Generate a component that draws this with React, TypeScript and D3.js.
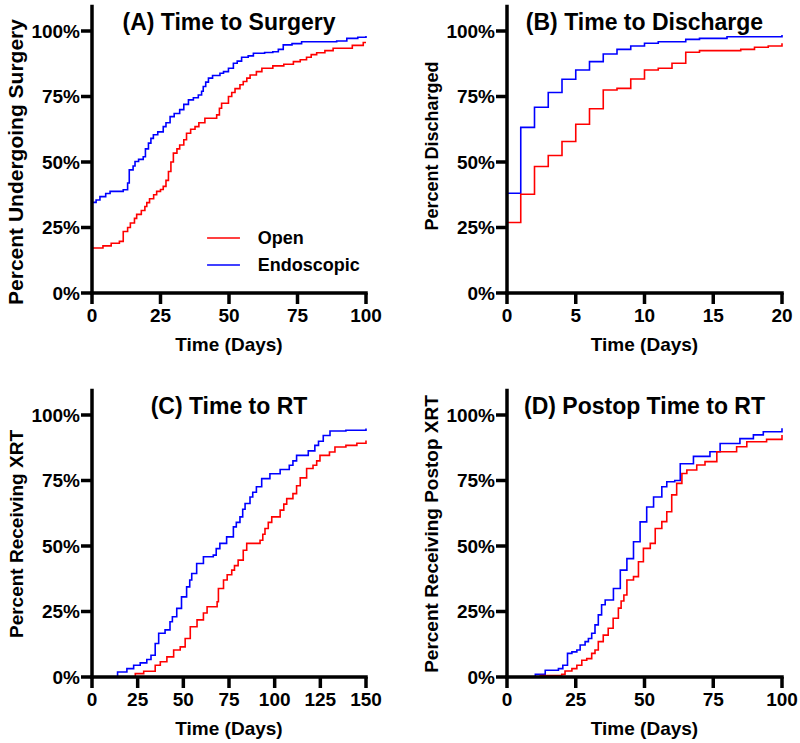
import * as d3 from 'd3'

const W = 800
const H = 743
const FONT = '"Liberation Sans", Arial, sans-serif'
const RED = '#ff0000'
const BLUE = '#0000ff'

// each series: [time, percent]
const surgeryOpen: [number, number][] = [
  [0, 0], [0, 17.2], [4, 18], [7, 19], [10, 19.7], [11.4, 23.5], [13, 25], [14, 26.7], [15.5, 28.5],
  [16.3, 30], [18, 31.5], [19.3, 33], [20, 34.5], [21, 36], [22.5, 37.5], [23.6, 38.8], [25, 39.5],
  [26, 40.7], [27, 43], [27.9, 46.4], [28.8, 50], [29.7, 53.4], [31, 55], [32, 56.5], [33.5, 58.5],
  [34.5, 61], [36, 62.5], [37.6, 63.5], [39, 65], [41.2, 66.7], [45.5, 68], [46.5, 70.5], [47.3, 72.4],
  [49.8, 75], [51, 76.5], [52.2, 78], [54, 79.5], [55.2, 80.7], [56.5, 82], [57.7, 83.2], [60, 84.5],
  [62, 85.8], [66, 86.7], [70, 87.3], [73.5, 88.3], [76, 89], [78.3, 90], [80, 91], [82, 91.7],
  [85, 92.5], [88, 93.4], [95, 94.5], [99, 95.6], [100, 95.6],
]
const surgeryEndo: [number, number][] = [
  [0, 0], [0, 34.6], [1.5, 35.5], [2.9, 36.8], [5, 38], [6.6, 38.8], [11.4, 39.4], [13, 42], [13.6, 47],
  [15, 48.5], [15.7, 50.2], [17, 51], [18.7, 52], [19.5, 55], [20.6, 57.2], [21.5, 59], [22.4, 60.4],
  [24, 61.5], [26, 63.5], [27, 65], [28.5, 67.3], [30, 68.5], [32, 70], [33.5, 72], [35.2, 73.7],
  [37, 74.5], [38.8, 75.6], [40, 77], [40.6, 78.8], [41.5, 80.5], [42.5, 82], [44, 83], [46.7, 83.9],
  [48, 84.5], [49.8, 85.8], [51.6, 87.7], [53, 88.5], [54.6, 90], [57, 90.5], [58.9, 91.5], [63, 91.8],
  [66, 92.1], [68, 93], [69.8, 94.7], [73, 95.2], [76.5, 95.9], [89.3, 96.2], [93, 97.2], [97, 97.6],
  [100, 98.1],
]
const dischargeOpen: [number, number][] = [
  [0, 0], [0, 26.9], [1, 37.7], [2, 48.3], [3, 52.5], [4, 57.8], [5, 64.4], [6, 70.3], [7, 77.5],
  [8, 78.1], [9, 81.7], [10, 85.1], [11, 85.8], [12, 87.7], [13, 91.9], [14, 92.5], [17, 93],
  [18, 93.8], [19, 94.3], [20, 95.3],
]
const dischargeEndo: [number, number][] = [
  [0, 0], [0, 38.1], [1, 63.2], [2, 70.9], [3, 76.5], [4, 81.6], [5, 85.1], [6, 88.3], [7, 91.2],
  [8, 93], [9, 94.3], [10, 95.3], [11, 95.9], [13, 96.8], [14, 97.2], [16, 97.8], [20, 98.5],
]
const rtOpen: [number, number][] = [
  [0, 0], [23.7, 1.3], [28.3, 2.2], [34.6, 4.5], [37.4, 5.8], [41, 7.7], [44.7, 10.3], [48.3, 11.5],
  [51, 14.7], [53.8, 19.2], [57.5, 21.8], [61, 24.4], [63, 26.8], [68.5, 28.7], [69.2, 33.8],
  [72, 37], [74, 39], [76.5, 40.8], [78, 42.5], [80, 44.6], [82.8, 48.4], [84.7, 51], [92, 52.2],
  [93.5, 54.5], [94.7, 56.7], [96.5, 59], [98.4, 61.1], [103, 63.7], [105, 66], [106.6, 68.1],
  [110, 70], [112, 73], [114, 76], [117.5, 79.6], [121, 80.8], [123, 82.5], [124.8, 84.6], [130, 85.9],
  [133, 87.8], [139, 88.4], [145, 89.2], [150, 90.3],
]
const rtEndo: [number, number][] = [
  [0, 0], [14, 1.9], [19.1, 3.2], [22.8, 4.5], [26.4, 5.4], [30, 6.7], [32.3, 8.3], [34.6, 12.8],
  [36.5, 16.7], [40, 18], [42.7, 21.1], [44, 23], [46.4, 26.2], [49, 30.6], [51.8, 34.4], [53.5, 37],
  [54.6, 39.5], [57.3, 43.3], [61, 45.9], [66.4, 46.5], [68, 49], [70, 51], [73.7, 53.5], [77.4, 57.3],
  [79, 59], [81, 61.1], [82.5, 64], [83.8, 66.2], [86.5, 68.7], [88, 70.5], [90, 72.6], [92.9, 75.7],
  [97.4, 77.6], [103, 79.2], [108, 80.8], [110, 82.5], [112, 84.6], [118.4, 86.3], [122, 88.4],
  [124, 90], [126.6, 92.2], [130.3, 93.9], [139, 94.2], [150, 94.8],
]
const postopOpen: [number, number][] = [
  [0, 0], [12.1, 0.6], [19.9, 1], [21.1, 2.3], [23.6, 3.2], [25.4, 4.5], [27.2, 6.4], [29, 7],
  [30.8, 9], [32, 10.3], [33.2, 13.5], [35, 16], [36.8, 18.6], [38.6, 22.4], [40.5, 26.3], [41.5, 29],
  [42.5, 31.3], [43.6, 37], [46, 38.3], [47.8, 44], [49.6, 49.1], [52.1, 51], [53.9, 56.7],
  [56.3, 59.3], [58.1, 63.1], [59.9, 69.5], [61.7, 73.9], [63.6, 77.7], [65.4, 79], [69, 80.9],
  [72, 82.2], [76.3, 86], [83.5, 87.9], [87.2, 89.8], [94.4, 90.7], [100, 92.4],
]
const postopEndo: [number, number][] = [
  [0, 0], [10.3, 1], [13.9, 2.6], [18.7, 3.2], [20.3, 4.5], [22, 9], [23.6, 9.6], [25.4, 10.3],
  [26.6, 12.2], [28.4, 13.5], [29.6, 14.7], [30.8, 16.7], [32, 19.9], [33.2, 23.7], [34.4, 27.6],
  [35.7, 29.4], [38.7, 33.8], [41.2, 40.8], [43.6, 45.2], [46, 51.6], [48.4, 59.2], [50.8, 64.9],
  [53.3, 68.7], [56.3, 72.6], [58.1, 74.5], [61, 75], [63, 81.4], [67.8, 84.2], [73.8, 86],
  [77.5, 89.1], [84.7, 91], [89.6, 92.4], [93.2, 93.6], [100, 94.9],
]

const yTicks = [0, 25, 50, 75, 100]
const ticks100 = [0, 25, 50, 75, 100]
const ticks20 = [0, 5, 10, 15, 20]
const ticks150 = [0, 25, 50, 75, 100, 125, 150]
const legendLabels = ['Open', 'Endoscopic']

type PanelProps = {
  x0: number
  x1: number
  yBase: number
  title: string
  yLabel: string
  yLabelSize: number
  yLabelMid: number
  xMax: number
  xTicks: number[]
  open: [number, number][]
  endo: [number, number][]
  legend?: boolean
}

function Panel({ x0, x1, yBase, title, yLabel, yLabelSize, yLabelMid, xMax, xTicks, open, endo, legend }: PanelProps) {
  const x = d3.scaleLinear().domain([0, xMax]).range([x0, x1])
  const y = d3.scaleLinear().domain([0, 100]).range([yBase, yBase - 262])
  const yTop = y(110)
  const line = d3.line<[number, number]>()
    .x(d => x(d[0]))
    .y(d => y(d[1]))
    .curve(d3.curveStepAfter)
  const mid = (x0 + x1) / 2

  return (
    <g fontFamily={FONT} fontWeight="bold">
      <path d={line(endo) || ''} fill="none" stroke={BLUE} strokeWidth={1.6} />
      <path d={line(open) || ''} fill="none" stroke={RED} strokeWidth={1.6} />

      {/* axes */}
      <line x1={x0} x2={x0} y1={yTop} y2={yBase + 1.5} stroke="#000" strokeWidth={3.5} />
      <line x1={x0 - 1.75} x2={x1 + 1.75} y1={yBase} y2={yBase} stroke="#000" strokeWidth={3.5} />
      {yTicks.map(t => (
        <g key={'y' + t}>
          <line x1={x0 - 11} x2={x0} y1={y(t)} y2={y(t)} stroke="#000" strokeWidth={3.5} />
          <text x={x0 - 12} y={y(t)} dy="0.36em" textAnchor="end" fontSize={19}>{t}%</text>
        </g>
      ))}
      {xTicks.map(t => (
        <g key={'x' + t}>
          <line x1={x(t)} x2={x(t)} y1={yBase} y2={yBase + 11} stroke="#000" strokeWidth={3.5} />
          <text x={x(t)} y={yBase + 29} textAnchor="middle" fontSize={19}>{t}</text>
        </g>
      ))}
      <text x={mid} y={yBase + 58} textAnchor="middle" fontSize={19}>Time (Days)</text>
      <text
        transform={`translate(${x0 - 69},${yLabelMid}) rotate(-90)`}
        textAnchor="middle" fontSize={yLabelSize}
      >{yLabel}</text>
      <text x={mid} y={yBase - 263} textAnchor="middle" fontSize={23}>{title}</text>

      {legend && legendLabels.map((l, i) => (
        <g key={l}>
          <line x1={x(42)} x2={x(54)} y1={y(21) + i * 27} y2={y(21) + i * 27}
            stroke={i === 0 ? RED : BLUE} strokeWidth={1.6} />
          <text x={x(60.5)} y={y(21) + i * 27} dy="0.35em" fontSize={18}>{l}</text>
        </g>
      ))}
    </g>
  )
}

export default function App() {
  return (
    <svg width={W} height={H} style={{ position: 'absolute', left: 0, top: 0, background: '#fff' }}>
      <rect width={W} height={H} fill="#fff" />
      <Panel x0={92} x1={366} yBase={293} title="(A) Time to Surgery" yLabel="Percent Undergoing Surgery"
        yLabelSize={21} yLabelMid={162}
        xMax={100} xTicks={ticks100} open={surgeryOpen} endo={surgeryEndo} legend />
      <Panel x0={507} x1={782} yBase={293} title="(B) Time to Discharge" yLabel="Percent Discharged"
        yLabelSize={18} yLabelMid={146}
        xMax={20} xTicks={ticks20} open={dischargeOpen} endo={dischargeEndo} />
      <Panel x0={92} x1={366} yBase={677} title="(C) Time to RT" yLabel="Percent Receiving XRT"
        yLabelSize={19} yLabelMid={534}
        xMax={150} xTicks={ticks150} open={rtOpen} endo={rtEndo} />
      <Panel x0={507} x1={782} yBase={677} title="(D) Postop Time to RT" yLabel="Percent Receiving Postop XRT"
        yLabelSize={19} yLabelMid={534}
        xMax={100} xTicks={ticks100} open={postopOpen} endo={postopEndo} />
    </svg>
  )
}
